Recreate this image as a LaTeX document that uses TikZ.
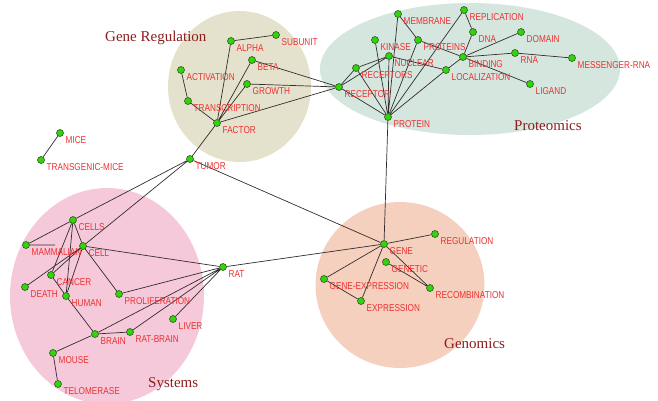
\documentclass[tikz,border=0pt]{standalone}
\usepackage{fontspec}
\newfontfamily\labfont[FakeStretch=0.82]{Liberation Sans}
\newfontfamily\ttlfont{Liberation Serif}
\usetikzlibrary{calc}
\definecolor{labred}{RGB}{238,48,48}
\definecolor{nodegreen}{RGB}{45,215,10}
\definecolor{nodeedge}{RGB}{60,80,40}
\definecolor{edgecol}{RGB}{50,45,45}
\definecolor{ttlred}{RGB}{140,30,30}
\definecolor{regbg}{RGB}{228,226,204}
\definecolor{probg}{RGB}{213,230,223}
\definecolor{sysbg}{RGB}{245,201,218}
\definecolor{genbg}{RGB}{246,208,190}
\pgfdeclarelayer{bg}
\pgfdeclarelayer{edges}
\pgfsetlayers{bg,edges,main}
\tikzset{
  vnode/.style={circle,fill=nodegreen,draw=nodeedge,line width=0.6pt,inner sep=0pt,minimum size=7pt},
  lab/.style={text=labred,font=\labfont\fontsize{10}{10}\selectfont,anchor=base west,inner sep=0pt},
  ttl/.style={text=ttlred,font=\ttlfont\fontsize{15}{15}\selectfont,anchor=base west,inner sep=0pt},
  edge/.style={draw=edgecol,line width=0.7pt},
}
\newcommand\vn[4]{\node[vnode] (#1) at (#2,#3) {}; \node[lab] (#1-l) at ($(#1)+(5.5,10.5)$) {#4};}
\begin{document}
\begin{tikzpicture}[x=1pt,y=-1pt]
\useasboundingbox (0,0) rectangle (658,400);
\begin{pgfonlayer}{bg}
  \fill[regbg] (239.5,86.5) ellipse [x radius=71.5,y radius=75.5];
  \fill[probg] (470,69) ellipse [x radius=150,y radius=66];
  \fill[sysbg] (107,296) ellipse [x radius=97,y radius=108];
  \fill[genbg] (400,285) ellipse [x radius=84.5,y radius=83];
\end{pgfonlayer}
\node[ttl] (t-reg) at (105,41) {Gene Regulation};
\node[ttl] (t-pro) at (514,130) {Proteomics};
\node[ttl] (t-sys) at (148,387) {Systems};
\node[ttl] (t-gen) at (444,348) {Genomics};
% Gene regulation
\vn{alpha}{231}{41}{ALPHA}
\vn{subunit}{276}{35}{SUBUNIT}
\vn{beta}{252}{60}{BETA}
\vn{activation}{181}{70}{ACTIVATION}
\vn{growth}{247}{84}{GROWTH}
\vn{transcription}{188}{101}{TRANSCRIPTION}
\vn{factor}{217}{123}{FACTOR}
\vn{tumor}{190}{159}{TUMOR}
% Proteomics
\vn{membrane}{398}{14}{MEMBRANE}
\vn{replication}{464}{10}{REPLICATION}
\vn{kinase}{375}{40}{KINASE}
\vn{proteins}{418}{40}{PROTEINS}
\vn{dna}{473}{32}{DNA}
\vn{domain}{521}{32}{DOMAIN}
\vn{nuclear}{389}{56}{NUCLEAR}
\vn{binding}{463}{57}{BINDING}
\vn{rna}{515}{53}{RNA}
\vn{messenger}{572}{58}{MESSENGER-RNA}
\vn{receptors}{356}{68}{RECEPTORS}
\vn{localization}{446}{70}{LOCALIZATION}
\vn{ligand}{530}{84}{LIGAND}
\vn{receptor}{339}{87}{RECEPTOR}
\vn{protein}{388}{117}{PROTEIN}
% Systems
\vn{cells}{73}{220}{CELLS}
\vn{mammalian}{26}{245}{MAMMALIAN}
\vn{cell}{83}{246}{CELL}
\vn{cancer}{51}{275}{CANCER}
\vn{death}{25}{287}{DEATH}
\vn{human}{66}{296}{HUMAN}
\vn{proliferation}{119}{294}{PROLIFERATION}
\vn{rat}{223}{267}{RAT}
\vn{liver}{173}{319}{LIVER}
\vn{brain}{95}{334}{BRAIN}
\vn{ratbrain}{130}{332}{RAT-BRAIN}
\vn{mouse}{53}{353}{MOUSE}
\vn{telomerase}{58}{384}{TELOMERASE}
% Genomics
\vn{gene}{384}{244}{GENE}
\vn{regulation}{435}{234}{REGULATION}
\vn{genetic}{386}{262}{GENETIC}
\vn{geneexpr}{324}{279}{GENE-EXPRESSION}
\vn{recombination}{430}{288}{RECOMBINATION}
\vn{expression}{361}{301}{EXPRESSION}
% Mice
\vn{mice}{60}{133}{MICE}
\vn{transgenic}{41}{160}{TRANSGENIC-MICE}
\coordinate (mamstub) at (55,245);
\begin{pgfonlayer}{edges}
  \draw[edge] (alpha)--(subunit) (alpha)--(factor) (beta)--(factor) (growth)--(factor)
    (activation)--(transcription) (transcription)--(factor)
    (beta)--(receptor) (growth)--(receptor) (factor)--(receptor) (factor)--(tumor);
  \draw[edge] (receptor)--(receptors) (receptor)--(nuclear) (receptors)--(nuclear)
    (receptor)--(protein) (receptors)--(protein) (kinase)--(protein) (membrane)--(protein)
    (nuclear)--(protein) (membrane)--(proteins) (proteins)--(protein) (proteins)--(binding)
    (replication)--(dna) (dna)--(binding) (replication)--(protein) (domain)--(binding)
    (rna)--(binding) (rna)--(messenger) (binding)--(ligand) (nuclear)--(localization)
    (localization)--(protein) (localization)--(binding) (protein)--(gene);
  \draw[edge] (tumor)--(cells) (cells)--(mammalian) (tumor)--(cell) (mammalian)--(mamstub)
    (cells)--(cell) (cells)--(cancer) (cells)--(human) (cell)--(death) (cell)--(cancer)
    (cell)--(human) (cancer)--(human) (human)--(brain) (cell)--(proliferation) (cell)--(rat)
    (rat)--(proliferation) (rat)--(brain) (rat)--(ratbrain) (rat)--(liver)
    (brain)--(ratbrain) (brain)--(mouse) (mouse)--(telomerase) (rat)--(gene);
  \draw[edge] (gene)--(regulation) (gene)--(geneexpr) (gene)--(expression)
    (gene)--(recombination) (genetic)--(recombination) (geneexpr)--(expression)
    (tumor)--(gene) (mice)--(transgenic);
\end{pgfonlayer}
\end{tikzpicture}
\end{document}
